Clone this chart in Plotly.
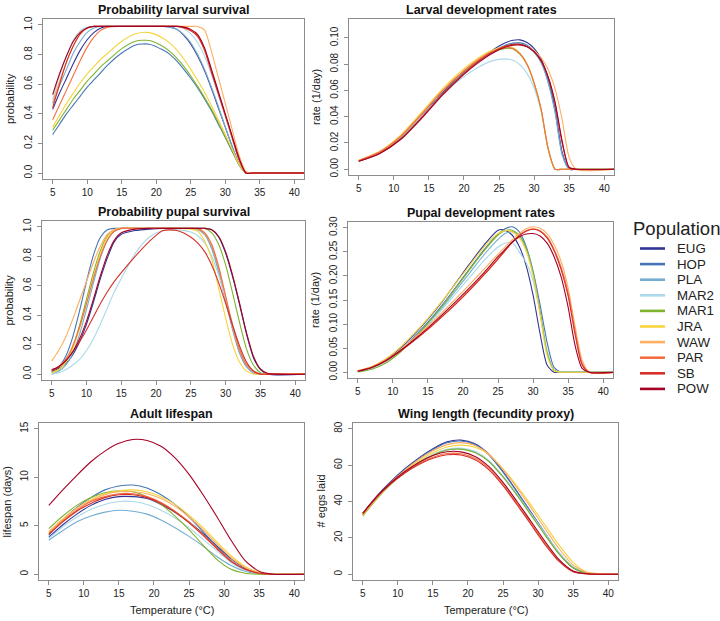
import plotly.graph_objects as go

W, H = 720, 621

populations = ["EUG", "HOP", "PLA", "MAR2", "MAR1", "JRA", "WAW", "PAR", "SB", "POW"]
pop_colors = ["#313695", "#4575b4", "#74add1", "#abd9e9", "#7fb32e",
              "#f7d33c", "#fdae61", "#f46d43", "#d73027", "#a50026"]

# --- Probability larval survival ---
temp_larv_surv = [5, 6, 7, 8, 9, 10, 11, 12, 13, 15, 17, 19, 21, 22, 23, 24, 25, 26, 27, 28, 29, 30, 31, 32, 33, 34, 42]
larv_surv = {
    "EUG": [0.43, 0.54, 0.64, 0.74, 0.83, 0.90, 0.95, 0.98, 0.99, 0.99, 0.99, 0.99, 0.99, 0.985, 0.97, 0.93, 0.87, 0.79, 0.69, 0.57, 0.44, 0.31, 0.18, 0.06, 0.0, 0.0, 0.0],
    "HOP": [0.26, 0.33, 0.40, 0.46, 0.52, 0.58, 0.63, 0.68, 0.73, 0.81, 0.865, 0.87, 0.83, 0.80, 0.755, 0.70, 0.64, 0.575, 0.50, 0.42, 0.33, 0.24, 0.145, 0.055, 0.0, 0.0, 0.0],
    "PLA": [0.47, 0.59, 0.70, 0.81, 0.89, 0.95, 0.98, 0.99, 0.99, 0.99, 0.99, 0.99, 0.99, 0.985, 0.97, 0.935, 0.88, 0.80, 0.70, 0.58, 0.45, 0.31, 0.18, 0.06, 0.0, 0.0, 0.0],
    "MAR2": [0.50, 0.66, 0.79, 0.90, 0.96, 0.985, 0.99, 0.99, 0.99, 0.99, 0.99, 0.99, 0.99, 0.99, 0.99, 0.975, 0.94, 0.88, 0.79, 0.665, 0.525, 0.38, 0.23, 0.085, 0.0, 0.0, 0.0],
    "MAR1": [0.29, 0.36, 0.43, 0.50, 0.56, 0.62, 0.67, 0.72, 0.76, 0.84, 0.89, 0.895, 0.855, 0.82, 0.775, 0.72, 0.655, 0.585, 0.51, 0.43, 0.34, 0.245, 0.15, 0.055, 0.0, 0.0, 0.0],
    "JRA": [0.31, 0.39, 0.47, 0.54, 0.61, 0.67, 0.72, 0.77, 0.81, 0.89, 0.94, 0.948, 0.91, 0.875, 0.83, 0.77, 0.70, 0.625, 0.545, 0.455, 0.36, 0.26, 0.16, 0.06, 0.0, 0.0, 0.0],
    "WAW": [0.48, 0.62, 0.75, 0.86, 0.94, 0.98, 0.99, 0.99, 0.99, 0.99, 0.99, 0.99, 0.99, 0.99, 0.99, 0.99, 0.99, 0.99, 0.965, 0.82, 0.645, 0.47, 0.295, 0.12, 0.01, 0.0, 0.0],
    "PAR": [0.36, 0.46, 0.56, 0.66, 0.76, 0.85, 0.92, 0.965, 0.985, 0.99, 0.99, 0.99, 0.99, 0.99, 0.99, 0.985, 0.965, 0.92, 0.83, 0.69, 0.54, 0.39, 0.24, 0.09, 0.0, 0.0, 0.0],
    "SB": [0.44, 0.60, 0.75, 0.86, 0.94, 0.98, 0.99, 0.99, 0.99, 0.99, 0.99, 0.99, 0.99, 0.99, 0.99, 0.98, 0.96, 0.925, 0.83, 0.68, 0.535, 0.39, 0.24, 0.09, 0.0, 0.0, 0.0],
    "POW": [0.53, 0.67, 0.79, 0.89, 0.95, 0.98, 0.99, 0.99, 0.99, 0.99, 0.99, 0.99, 0.99, 0.99, 0.99, 0.985, 0.97, 0.935, 0.845, 0.70, 0.55, 0.40, 0.25, 0.10, 0.0, 0.0, 0.0],
}

# --- Larval development rates ---
temp_larv_dev = [5, 8, 11, 14, 17, 20, 22, 24, 26, 27, 28, 29, 30, 31, 32, 33, 34, 35, 36, 42]
larv_dev = {
    "EUG": [0.0062, 0.0125, 0.0238, 0.0405, 0.0585, 0.0740, 0.0830, 0.0905, 0.0965, 0.0982, 0.0985, 0.0965, 0.0920, 0.0840, 0.0690, 0.0460, 0.0130, 0.0, 0.0, 0.0],
    "HOP": [0.0062, 0.0125, 0.0238, 0.0403, 0.0580, 0.0735, 0.0822, 0.0892, 0.0945, 0.0960, 0.0962, 0.0945, 0.0900, 0.0820, 0.0670, 0.0440, 0.0120, 0.0, 0.0, 0.0],
    "PLA": [0.0062, 0.0124, 0.0236, 0.0400, 0.0577, 0.0732, 0.0818, 0.0888, 0.0940, 0.0955, 0.0955, 0.0935, 0.0890, 0.0810, 0.0660, 0.0430, 0.0110, 0.0, 0.0, 0.0],
    "MAR2": [0.0064, 0.0128, 0.0243, 0.0405, 0.0570, 0.0705, 0.0775, 0.0825, 0.0840, 0.0830, 0.0795, 0.0730, 0.0620, 0.0440, 0.0160, 0.0, 0.0, 0.0, 0.0, 0.0],
    "MAR1": [0.0062, 0.0128, 0.0248, 0.0420, 0.0600, 0.0748, 0.0830, 0.0890, 0.0920, 0.0915, 0.0875, 0.0795, 0.0655, 0.0455, 0.0155, 0.0, 0.0, 0.0, 0.0, 0.0],
    "JRA": [0.0068, 0.0138, 0.0262, 0.0436, 0.0615, 0.0765, 0.0845, 0.0905, 0.0935, 0.0925, 0.0880, 0.0800, 0.0660, 0.0460, 0.0160, 0.0, 0.0, 0.0, 0.0, 0.0],
    "WAW": [0.0066, 0.0133, 0.0252, 0.0422, 0.0600, 0.0750, 0.0835, 0.0895, 0.0935, 0.0945, 0.0945, 0.0935, 0.0905, 0.0850, 0.0760, 0.0610, 0.0380, 0.0090, 0.0, 0.0],
    "PAR": [0.0066, 0.0133, 0.0252, 0.0423, 0.0600, 0.0748, 0.0830, 0.0892, 0.0925, 0.0920, 0.0880, 0.0800, 0.0660, 0.0460, 0.0160, 0.0, 0.0, 0.0, 0.0, 0.0],
    "SB": [0.0060, 0.0122, 0.0232, 0.0396, 0.0575, 0.0730, 0.0818, 0.0890, 0.0940, 0.0952, 0.0952, 0.0935, 0.0895, 0.0825, 0.0700, 0.0500, 0.0200, 0.0010, 0.0, 0.0],
    "POW": [0.0060, 0.0120, 0.0228, 0.0390, 0.0568, 0.0722, 0.0810, 0.0882, 0.0932, 0.0945, 0.0947, 0.0932, 0.0895, 0.0828, 0.0705, 0.0510, 0.0215, 0.0015, 0.0, 0.0],
}

# --- Probability pupal survival ---
temp_pup_surv = [5, 6, 7, 8, 9, 10, 11, 12, 13, 14, 15, 17, 19, 21, 23, 25, 26, 27, 28, 29, 30, 31, 32, 33, 34, 35, 36, 42]
pup_surv = {
    "EUG": [0.02, 0.04, 0.07, 0.13, 0.22, 0.34, 0.49, 0.65, 0.79, 0.90, 0.95, 0.975, 0.985, 0.99, 0.99, 0.99, 0.99, 0.99, 0.98, 0.93, 0.82, 0.66, 0.47, 0.27, 0.11, 0.03, 0.0, 0.0],
    "HOP": [0.02, 0.05, 0.12, 0.25, 0.43, 0.63, 0.81, 0.93, 0.98, 0.99, 0.99, 0.99, 0.99, 0.99, 0.99, 0.99, 0.985, 0.95, 0.86, 0.71, 0.51, 0.31, 0.15, 0.05, 0.01, 0.0, 0.0, 0.0],
    "PLA": [0.0, 0.02, 0.06, 0.14, 0.27, 0.44, 0.62, 0.79, 0.91, 0.97, 0.99, 0.99, 0.99, 0.99, 0.99, 0.99, 0.98, 0.945, 0.85, 0.69, 0.49, 0.30, 0.14, 0.05, 0.01, 0.0, 0.0, 0.0],
    "MAR2": [0.0, 0.01, 0.03, 0.06, 0.10, 0.16, 0.24, 0.34, 0.45, 0.56, 0.65, 0.82, 0.93, 0.975, 0.98, 0.965, 0.94, 0.89, 0.80, 0.67, 0.51, 0.34, 0.19, 0.08, 0.025, 0.005, 0.0, 0.0],
    "MAR1": [0.01, 0.03, 0.08, 0.18, 0.33, 0.51, 0.69, 0.84, 0.94, 0.98, 0.99, 0.99, 0.99, 0.99, 0.99, 0.99, 0.99, 0.99, 0.96, 0.88, 0.74, 0.55, 0.35, 0.17, 0.06, 0.01, 0.0, 0.0],
    "JRA": [0.01, 0.03, 0.08, 0.17, 0.31, 0.48, 0.66, 0.82, 0.93, 0.98, 0.99, 0.99, 0.99, 0.99, 0.99, 0.985, 0.97, 0.90, 0.78, 0.58, 0.38, 0.20, 0.08, 0.02, 0.0, 0.0, 0.0, 0.0],
    "WAW": [0.09, 0.16, 0.25, 0.37, 0.50, 0.63, 0.76, 0.87, 0.95, 0.98, 0.99, 0.99, 0.99, 0.99, 0.99, 0.99, 0.985, 0.955, 0.87, 0.72, 0.52, 0.32, 0.16, 0.06, 0.015, 0.0, 0.0, 0.0],
    "PAR": [0.03, 0.05, 0.10, 0.19, 0.32, 0.48, 0.65, 0.80, 0.91, 0.97, 0.99, 0.99, 0.99, 0.99, 0.99, 0.99, 0.99, 0.96, 0.88, 0.73, 0.53, 0.33, 0.17, 0.065, 0.02, 0.0, 0.0, 0.0],
    "SB": [0.02, 0.05, 0.09, 0.15, 0.22, 0.30, 0.39, 0.48, 0.56, 0.63, 0.69, 0.80, 0.90, 0.975, 0.975, 0.93, 0.89, 0.83, 0.74, 0.62, 0.48, 0.33, 0.19, 0.08, 0.02, 0.0, 0.0, 0.0],
    "POW": [0.03, 0.05, 0.09, 0.15, 0.24, 0.36, 0.51, 0.67, 0.81, 0.91, 0.96, 0.985, 0.99, 0.99, 0.99, 0.99, 0.99, 0.99, 0.98, 0.935, 0.83, 0.67, 0.48, 0.28, 0.12, 0.035, 0.005, 0.0],
}

# --- Pupal development rates ---
temp_pup_dev = [5, 7, 9, 11, 13, 15, 17, 19, 21, 23, 25, 26, 27, 28, 29, 30, 31, 32, 33, 34, 35, 36, 37, 38, 42]
pup_dev = {
    "EUG": [0.002, 0.010, 0.026, 0.049, 0.078, 0.110, 0.146, 0.186, 0.226, 0.264, 0.295, 0.295, 0.285, 0.262, 0.222, 0.160, 0.080, 0.015, 0.0, 0.0, 0.0, 0.0, 0.0, 0.0, 0.0],
    "HOP": [0.002, 0.009, 0.023, 0.045, 0.073, 0.104, 0.139, 0.177, 0.216, 0.254, 0.287, 0.298, 0.302, 0.292, 0.262, 0.210, 0.140, 0.062, 0.010, 0.0, 0.0, 0.0, 0.0, 0.0, 0.0],
    "PLA": [0.002, 0.009, 0.023, 0.044, 0.071, 0.101, 0.134, 0.170, 0.207, 0.244, 0.276, 0.288, 0.292, 0.284, 0.258, 0.206, 0.127, 0.042, 0.004, 0.0, 0.0, 0.0, 0.0, 0.0, 0.0],
    "MAR2": [0.001, 0.008, 0.022, 0.043, 0.069, 0.098, 0.130, 0.164, 0.198, 0.232, 0.260, 0.268, 0.270, 0.250, 0.228, 0.190, 0.122, 0.045, 0.005, 0.0, 0.0, 0.0, 0.0, 0.0, 0.0],
    "MAR1": [0.0005, 0.006, 0.019, 0.041, 0.070, 0.102, 0.137, 0.175, 0.214, 0.252, 0.285, 0.294, 0.295, 0.285, 0.258, 0.205, 0.125, 0.040, 0.004, 0.0, 0.0, 0.0, 0.0, 0.0, 0.0],
    "JRA": [0.003, 0.012, 0.028, 0.051, 0.080, 0.112, 0.147, 0.185, 0.223, 0.260, 0.288, 0.294, 0.292, 0.280, 0.252, 0.200, 0.120, 0.035, 0.003, 0.0, 0.0, 0.0, 0.0, 0.0, 0.0],
    "WAW": [0.003, 0.011, 0.026, 0.046, 0.070, 0.096, 0.124, 0.153, 0.183, 0.214, 0.245, 0.260, 0.275, 0.288, 0.298, 0.302, 0.299, 0.288, 0.265, 0.230, 0.175, 0.095, 0.025, 0.0, 0.0],
    "PAR": [0.003, 0.011, 0.025, 0.044, 0.066, 0.090, 0.116, 0.143, 0.172, 0.203, 0.236, 0.253, 0.270, 0.284, 0.294, 0.298, 0.294, 0.281, 0.255, 0.218, 0.165, 0.085, 0.018, 0.0, 0.0],
    "SB": [0.002, 0.010, 0.024, 0.043, 0.065, 0.089, 0.115, 0.142, 0.171, 0.202, 0.235, 0.252, 0.269, 0.283, 0.293, 0.297, 0.293, 0.279, 0.252, 0.213, 0.158, 0.078, 0.015, 0.0, 0.0],
    "POW": [0.002, 0.010, 0.024, 0.044, 0.067, 0.092, 0.119, 0.147, 0.176, 0.207, 0.240, 0.255, 0.270, 0.281, 0.287, 0.288, 0.283, 0.268, 0.240, 0.198, 0.135, 0.055, 0.008, 0.0, 0.0],
}

# --- Adult lifespan ---
temp_lifespan = [5, 7, 9, 11, 13, 15, 17, 19, 21, 23, 25, 27, 29, 31, 33, 35, 37, 42]
lifespan = {
    "EUG": [3.8, 5.1, 6.2, 7.1, 7.7, 8.0, 8.0, 7.8, 7.2, 6.4, 5.4, 4.2, 2.9, 1.6, 0.6, 0.1, 0.0, 0.0],
    "HOP": [4.0, 5.6, 6.9, 7.9, 8.7, 9.1, 9.2, 8.9, 8.2, 7.2, 5.9, 4.4, 2.8, 1.4, 0.5, 0.1, 0.0, 0.0],
    "PLA": [3.5, 4.5, 5.4, 6.0, 6.4, 6.6, 6.5, 6.2, 5.6, 4.8, 3.9, 2.9, 1.8, 0.9, 0.3, 0.05, 0.0, 0.0],
    "MAR2": [3.7, 4.9, 5.9, 6.7, 7.2, 7.5, 7.5, 7.2, 6.6, 5.8, 4.8, 3.6, 2.4, 1.2, 0.4, 0.1, 0.0, 0.0],
    "MAR1": [4.7, 6.0, 7.1, 7.9, 8.4, 8.6, 8.5, 8.0, 7.2, 6.0, 4.6, 3.0, 1.5, 0.5, 0.1, 0.0, 0.0, 0.0],
    "JRA": [4.3, 5.6, 6.8, 7.7, 8.3, 8.6, 8.7, 8.5, 8.0, 7.2, 6.1, 4.8, 3.3, 1.9, 0.8, 0.2, 0.0, 0.0],
    "WAW": [4.4, 5.7, 6.8, 7.6, 8.2, 8.5, 8.5, 8.3, 7.8, 7.0, 5.9, 4.6, 3.1, 1.7, 0.7, 0.15, 0.0, 0.0],
    "PAR": [4.2, 5.5, 6.6, 7.5, 8.0, 8.3, 8.3, 8.0, 7.4, 6.5, 5.4, 4.1, 2.7, 1.4, 0.5, 0.1, 0.0, 0.0],
    "SB": [4.1, 5.4, 6.5, 7.3, 7.9, 8.2, 8.2, 7.9, 7.3, 6.4, 5.3, 4.0, 2.6, 1.3, 0.5, 0.1, 0.0, 0.0],
    "POW": [7.1, 8.7, 10.2, 11.6, 12.7, 13.5, 13.9, 13.8, 13.2, 12.0, 10.3, 8.2, 5.9, 3.5, 1.4, 0.3, 0.0, 0.0],
}

# --- Wing length (fecundity proxy) ---
temp_wing = [5, 7, 9, 11, 13, 15, 17, 19, 21, 23, 25, 27, 29, 31, 33, 35, 37, 42]
eggs = {
    "EUG": [33.5, 43.0, 51.0, 58.0, 64.0, 69.0, 72.8, 73.8, 71.8, 66.0, 56.5, 45.5, 34.0, 22.5, 11.5, 3.5, 0.5, 0.0],
    "HOP": [33.0, 42.7, 50.8, 57.7, 63.7, 68.6, 72.3, 73.3, 71.3, 65.6, 56.2, 45.3, 33.9, 22.5, 11.6, 3.6, 0.6, 0.0],
    "PLA": [32.8, 42.0, 49.7, 56.1, 61.4, 65.5, 68.3, 68.9, 67.1, 62.0, 53.5, 43.5, 32.8, 22.0, 11.6, 3.8, 0.5, 0.0],
    "MAR2": [33.0, 42.3, 50.0, 56.5, 61.8, 66.0, 68.8, 69.4, 67.6, 62.5, 54.0, 44.0, 33.3, 22.5, 12.0, 4.0, 0.6, 0.0],
    "MAR1": [32.0, 41.5, 49.5, 56.0, 61.3, 65.5, 68.3, 68.8, 67.0, 62.0, 53.5, 43.5, 32.5, 21.5, 11.0, 3.5, 0.5, 0.0],
    "JRA": [32.5, 42.0, 50.0, 56.7, 62.3, 66.8, 70.0, 71.0, 69.8, 65.8, 58.0, 48.5, 38.0, 27.0, 16.0, 6.5, 1.0, 0.0],
    "WAW": [33.0, 42.5, 50.5, 57.3, 63.1, 67.9, 71.3, 72.4, 70.8, 66.0, 57.5, 47.5, 36.5, 25.0, 14.0, 5.0, 1.0, 0.0],
    "PAR": [33.0, 42.3, 49.8, 56.0, 60.8, 64.4, 66.4, 66.3, 63.8, 58.2, 49.5, 39.0, 28.0, 17.0, 7.5, 1.5, 0.2, 0.0],
    "SB": [33.5, 42.5, 49.8, 55.7, 60.4, 63.8, 65.7, 65.6, 63.0, 57.4, 48.7, 38.2, 27.2, 16.3, 7.0, 1.3, 0.1, 0.0],
    "POW": [33.5, 42.8, 50.3, 56.5, 61.5, 65.3, 67.4, 67.3, 64.8, 59.2, 50.5, 40.0, 29.0, 18.0, 8.0, 1.8, 0.2, 0.0],
}

x_ticks = [5, 10, 15, 20, 25, 30, 35, 40]

# (temps, data, title, y title, y range, y ticks, tick format, plot box in px: x0, x1, y0, y1)
panels = [
    (temp_larv_surv, larv_surv, "Probability larval survival", "probability",
     [-0.04, 1.04], [0, 0.2, 0.4, 0.6, 0.8, 1.0], ".1f", (43, 304, 19, 179)),
    (temp_larv_dev, larv_dev, "Larval development rates", "rate (1/day)",
     [-0.0044, 0.1144], [0, 0.02, 0.04, 0.06, 0.08, 0.10], ".2f", (349, 614, 19, 175)),
    (temp_pup_surv, pup_surv, "Probability pupal survival", "probability",
     [-0.04, 1.04], [0, 0.2, 0.4, 0.6, 0.8, 1.0], ".1f", (42, 305, 221, 380)),
    (temp_pup_dev, pup_dev, "Pupal development rates", "rate (1/day)",
     [-0.012, 0.312], [0, 0.05, 0.10, 0.15, 0.20, 0.25, 0.30], ".2f", (348, 613, 222, 378)),
    (temp_lifespan, lifespan, "Adult lifespan", "lifespan (days)",
     [-0.6, 15.6], [0, 5, 10, 15], "d", (39, 304, 423, 580)),
    (temp_wing, eggs, "Wing length (fecundity proxy)", "# eggs laid",
     [-3.2, 83.2], [0, 20, 40, 60, 80], "d", (353, 618, 423, 580)),
]

FONT = "Liberation Sans"
BOX = "#8c8c8c"

fig = go.Figure()
annotations = []
shapes = []
layout_axes = {}

for i, (temps, data, title, ytitle, yrange, yticks, fmt, box) in enumerate(panels):
    n = "" if i == 0 else str(i + 1)
    x0, x1, y0, y1 = box
    for pop, col in zip(populations, pop_colors):
        fig.add_trace(go.Scatter(
            x=temps, y=data[pop], mode="lines", name=pop,
            line=dict(color=col, width=1.1, shape="spline", smoothing=0.7),
            showlegend=False, hoverinfo="skip",
            xaxis="x" + n, yaxis="y" + n,
        ))

    layout_axes["xaxis" + n] = dict(
        domain=[x0 / W, x1 / W], anchor="y" + n, range=[3.6, 41.4],
        tickvals=x_ticks, ticks="outside", ticklen=4, tickcolor=BOX,
        showline=True, mirror=True, linecolor=BOX, linewidth=1,
        showgrid=False, zeroline=False, automargin=False,
        tickfont=dict(family=FONT, size=10, color="#222"),
    )
    layout_axes["yaxis" + n] = dict(
        domain=[1 - y1 / H, 1 - y0 / H], anchor="x" + n, range=yrange,
        tickvals=yticks, tickformat=fmt, tickangle=-90,
        ticks="outside", ticklen=4, tickcolor=BOX, ticklabelstandoff=2,
        showline=True, mirror=True, linecolor=BOX, linewidth=1,
        showgrid=False, zeroline=False, automargin=False,
        tickfont=dict(family=FONT, size=10, color="#222"),
    )

    # panel title
    annotations.append(dict(
        text="<b>%s</b>" % title, x=(x0 + x1) / 2 / W, y=1 - (y0 - 9) / H,
        xref="paper", yref="paper", xanchor="center", yanchor="middle",
        showarrow=False, font=dict(family=FONT, size=12.5, color="#111"),
    ))
    # y axis title
    annotations.append(dict(
        text=ytitle, x=(x0 - 33) / W, y=1 - (y0 + y1) / 2 / H,
        xref="paper", yref="paper", xanchor="center", yanchor="middle",
        textangle=-90, showarrow=False,
        font=dict(family=FONT, size=11, color="#222"),
    ))
    # x axis title on the bottom row only
    if i >= 4:
        annotations.append(dict(
            text="Temperature (°C)", x=(x0 + x1) / 2 / W, y=1 - (y1 + 30) / H,
            xref="paper", yref="paper", xanchor="center", yanchor="middle",
            showarrow=False, font=dict(family=FONT, size=11, color="#222"),
        ))

# legend drawn in paper space
annotations.append(dict(
    text="Population", x=631 / W, y=1 - 229 / H, xref="paper", yref="paper",
    xanchor="left", yanchor="middle", showarrow=False,
    font=dict(family=FONT, size=18.5, color="#222"),
))
for k, (pop, col) in enumerate(zip(populations, pop_colors)):
    ly = 1 - (248.5 + 15.6 * k) / H
    shapes.append(dict(
        type="line", xref="paper", yref="paper",
        x0=640 / W, x1=665 / W, y0=ly, y1=ly,
        line=dict(color=col, width=2.6),
    ))
    annotations.append(dict(
        text=pop, x=675 / W, y=ly, xref="paper", yref="paper",
        xanchor="left", yanchor="middle", showarrow=False,
        font=dict(family=FONT, size=13.3, color="#222"),
    ))

fig.update_layout(
    width=W, height=H,
    margin=dict(l=0, r=0, t=0, b=0),
    paper_bgcolor="white", plot_bgcolor="white",
    annotations=annotations,
    shapes=shapes,
    showlegend=False,
    **layout_axes,
)

# drop the browser's default body margin so the figure fills the window
fig.write_html("out.html", config={"displayModeBar": False},
               post_script="document.body.style.margin = '0px';")
